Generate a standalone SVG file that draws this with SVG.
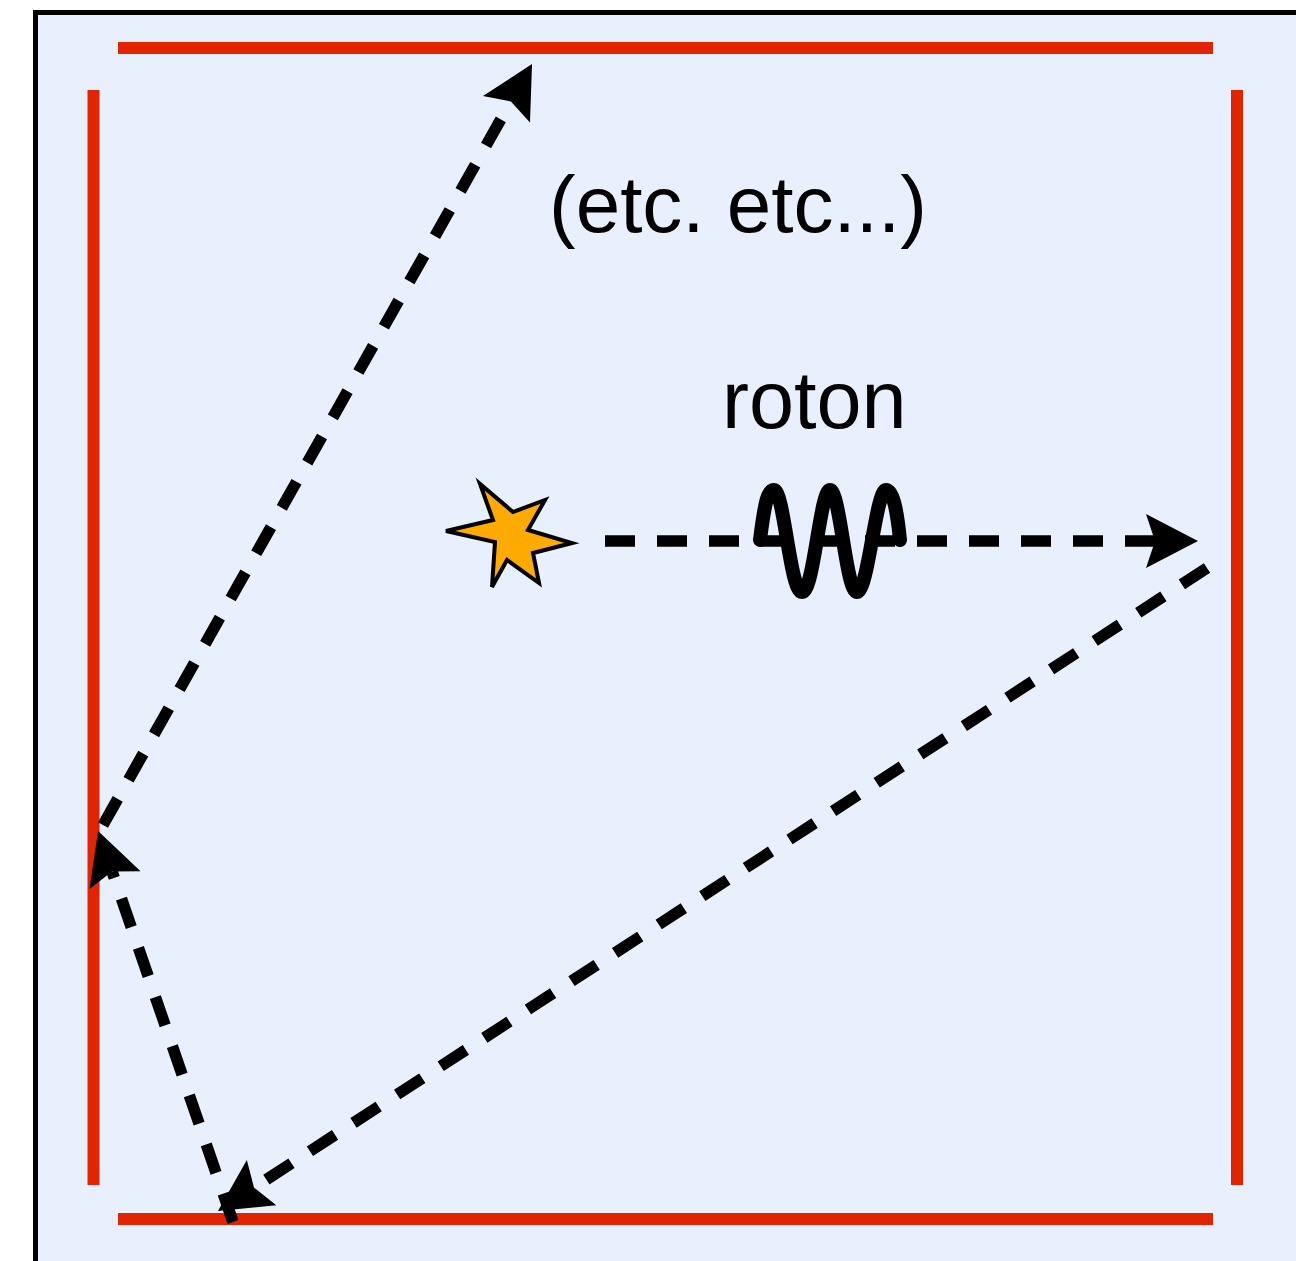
<svg xmlns="http://www.w3.org/2000/svg" width="1296" height="1261" viewBox="0 0 1296 1261">
<defs>
<style>
.wall{stroke:#E22400;stroke-width:12;fill:none}
.path{stroke:#000;stroke-width:11.5;fill:none;stroke-dasharray:30 22}
.lbl{font-family:"Liberation Sans",Arial,sans-serif;font-size:80px;fill:#000}
</style>
<marker id="ah" markerUnits="userSpaceOnUse" viewBox="-10 -28 54 56" refX="0" refY="0" markerWidth="54" markerHeight="56" orient="auto">
<path d="M43,0 L-9,-27 L0,0 L-9,27 Z" fill="#000"/>
</marker>
</defs>
<rect width="1296" height="1261" fill="#fff"/>
<rect id="box" x="35.5" y="12.5" width="1300" height="1300" fill="#E8F0FD" stroke="#000" stroke-width="5"/>
<g id="walls">
<line class="wall" x1="118" y1="48" x2="1213" y2="48"/>
<line class="wall" x1="118" y1="1219" x2="1213" y2="1219"/>
<line class="wall" x1="93.5" y1="90" x2="93.5" y2="1185"/>
<line class="wall" x1="1237" y1="90" x2="1237" y2="1185"/>
</g>
<g id="connectors">
<line class="path" x1="605" y1="541" x2="1155" y2="541" marker-end="url(#ah)"/>
<line class="path" x1="1207" y1="568" x2="254" y2="1187.6" marker-end="url(#ah)"/>
<line class="path" x1="233" y1="1222" x2="112.1" y2="871.6" marker-end="url(#ah)"/>
<line class="path" x1="103" y1="825" x2="510.9" y2="101.5" marker-end="url(#ah)"/>
</g>
<g id="roton-wave">
<path d="M760,540 C765,500 768,490 774,490 C784,490 790,592 802,592 C814,592 820,490 830,490 C840,490 846,592 857,592 C868,592 876,490 886,490 C893,490 897,510 900,540" fill="none" stroke="#000" stroke-width="14" stroke-linecap="round"/>
</g>
<g id="source">
<polygon points="446,531 493,520 480,484 513,512 545,500 528,530 572,543 533,553 539,583 507,560 492,587 495,542" fill="#FFAA00" stroke="#000" stroke-width="4" stroke-linejoin="miter"/>
</g>
<g id="labels">
<text class="lbl" x="722" y="428" style="font-size:81px">roton</text>
<text class="lbl" x="549" y="232">(etc. etc...)</text>
</g>
</svg>
